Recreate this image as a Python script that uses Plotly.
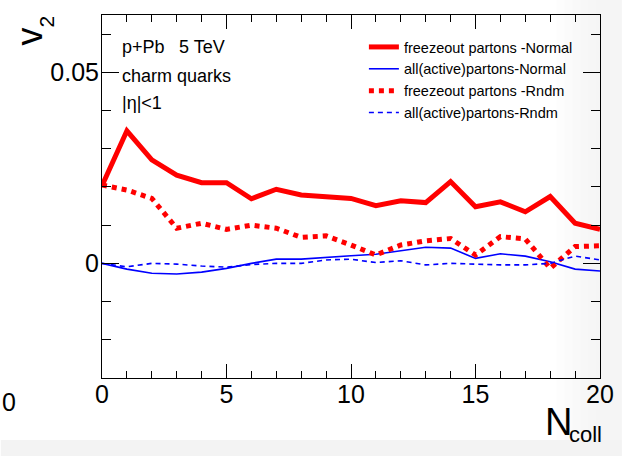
import plotly.graph_objects as go

# N_coll bins
ncoll = list(range(21))

# v2 of charm quarks vs N_coll
v2_freeze_normal = [0.0203, 0.0347, 0.0271, 0.0231, 0.0211, 0.0211, 0.0169, 0.0194, 0.0179, 0.0175,
                    0.0170, 0.0151, 0.0164, 0.0159, 0.0214, 0.0148, 0.0161, 0.0135, 0.0175, 0.0105, 0.0089]
v2_all_normal = [0.0000, -0.0015, -0.0026, -0.0028, -0.0023, -0.0013, 0.0000, 0.0011, 0.0011, 0.0016,
                 0.0020, 0.0024, 0.0033, 0.0042, 0.0040, 0.0013, 0.0025, 0.0019, 0.0004, -0.0015, -0.0020]
v2_freeze_rndm = [0.0205, 0.0192, 0.0170, 0.0092, 0.0105, 0.0089, 0.0100, 0.0092, 0.0068, 0.0072,
                  0.0048, 0.0022, 0.0048, 0.0059, 0.0065, 0.0022, 0.0070, 0.0064, -0.0013, 0.0044, 0.0046]
v2_all_rndm = [0.0000, -0.0009, 0.0000, -0.0002, -0.0007, -0.0010, -0.0003, 0.0000, 0.0000, 0.0009,
               0.0011, 0.0002, 0.0007, -0.0004, 0.0000, -0.0002, -0.0004, -0.0004, 0.0000, 0.0019, 0.0009]

W, H = 626, 456
L, R, T, B = 102, 22, 15, 78
FONT = "Liberation Sans, Arial, Helvetica, sans-serif"


def px_x(p):
    return (p - L) / (W - L - R)


def px_y(p):
    return 1 - (p - T) / (H - T - B)


fig = go.Figure()
fig.add_trace(go.Scatter(x=ncoll, y=v2_freeze_normal, mode="lines", name="freezeout partons -Normal",
                         line=dict(color="#ff0000", width=5)))
fig.add_trace(go.Scatter(x=ncoll, y=v2_all_normal, mode="lines", name="all(active)partons-Normal",
                         line=dict(color="#0000ff", width=1.6)))
fig.add_trace(go.Scatter(x=ncoll, y=v2_freeze_rndm, mode="lines", name="freezeout partons -Rndm",
                         line=dict(color="#ff0000", width=5, dash="dot")))
fig.add_trace(go.Scatter(x=ncoll, y=v2_all_rndm, mode="lines", name="all(active)partons-Rndm",
                         line=dict(color="#0000ff", width=1.6, dash="5px,4px")))

axis_common = dict(showline=True, linecolor="black", linewidth=1, mirror="allticks",
                   ticks="inside", tickcolor="black", tickwidth=1, showgrid=False, zeroline=False,
                   tickfont=dict(family=FONT, size=25, color="black"))

fig.update_xaxes(range=[0, 20], tick0=0, dtick=5, ticklen=14, ticklabelstandoff=-6,
                 minor=dict(dtick=1, ticklen=7, ticks="inside", tickcolor="black", showgrid=False),
                 **axis_common)
fig.update_yaxes(range=[-0.03, 0.065], tick0=0, dtick=0.05, ticklen=17, ticklabelstandoff=-3,
                 minor=dict(dtick=0.01, ticklen=9, ticks="inside", tickcolor="black", showgrid=False),
                 **axis_common)

annotations = [
    dict(text="p+Pb", x=px_x(120), y=px_y(47), xanchor="left", yanchor="middle", font=dict(size=18)),
    dict(text="5 TeV", x=px_x(178), y=px_y(47), xanchor="left", yanchor="middle", font=dict(size=18)),
    dict(text="charm quarks", x=px_x(120), y=px_y(76), xanchor="left", yanchor="middle", font=dict(size=18)),
    dict(text="|η|<1", x=px_x(120), y=px_y(103), xanchor="left", yanchor="middle", font=dict(size=18)),
    # axis titles
    dict(text="v", x=px_x(29), y=px_y(37), xanchor="center", yanchor="middle", textangle=-90,
         font=dict(size=36)),
    dict(text="2", x=px_x(47), y=px_y(21), xanchor="center", yanchor="middle", textangle=-90,
         font=dict(size=21)),
    dict(text="N", x=px_x(562), y=px_y(422), xanchor="center", yanchor="middle", font=dict(size=38)),
    dict(text="coll", x=px_x(589), y=px_y(434), xanchor="center", yanchor="middle", font=dict(size=22)),
    # tick label of the neighbouring panel at the left edge
    dict(text="0", x=px_x(-1), y=px_y(402), xanchor="left", yanchor="middle", font=dict(size=25)),
]
for a in annotations:
    a.update(xref="paper", yref="paper", showarrow=False)
    a["font"].update(family=FONT, color="black")

# soft grey vignette along the right and bottom edges
shapes = []
strip_edges = [560, 568, 576, 584, 592, 600, 626]
strip_greys = [253, 251, 249, 247, 246, 245]
for x0, x1, g in zip(strip_edges[:-1], strip_edges[1:], strip_greys):
    shapes.append(dict(type="rect", xref="paper", yref="paper", x0=px_x(x0), x1=px_x(x1),
                       y0=px_y(456), y1=px_y(0), fillcolor=f"rgb({g},{g},{g})",
                       line=dict(width=0), layer="below"))
shapes.append(dict(type="rect", xref="paper", yref="paper", x0=px_x(0), x1=px_x(626),
                   y0=px_y(456), y1=px_y(440), fillcolor="rgb(243,243,243)",
                   line=dict(width=0), layer="below"))

fig.update_layout(
    width=W, height=H,
    margin=dict(l=L, r=R, t=T, b=B),
    paper_bgcolor="white", plot_bgcolor="rgba(0,0,0,0)",
    font=dict(family=FONT, color="black"),
    showlegend=True,
    legend=dict(x=px_x(366), y=px_y(31), xanchor="left", yanchor="top",
                bgcolor="rgba(0,0,0,0)", borderwidth=0,
                font=dict(family=FONT, size=14.5, color="black"), tracegroupgap=0),
    annotations=annotations,
    shapes=shapes,
)

fig.write_html("out.html")
